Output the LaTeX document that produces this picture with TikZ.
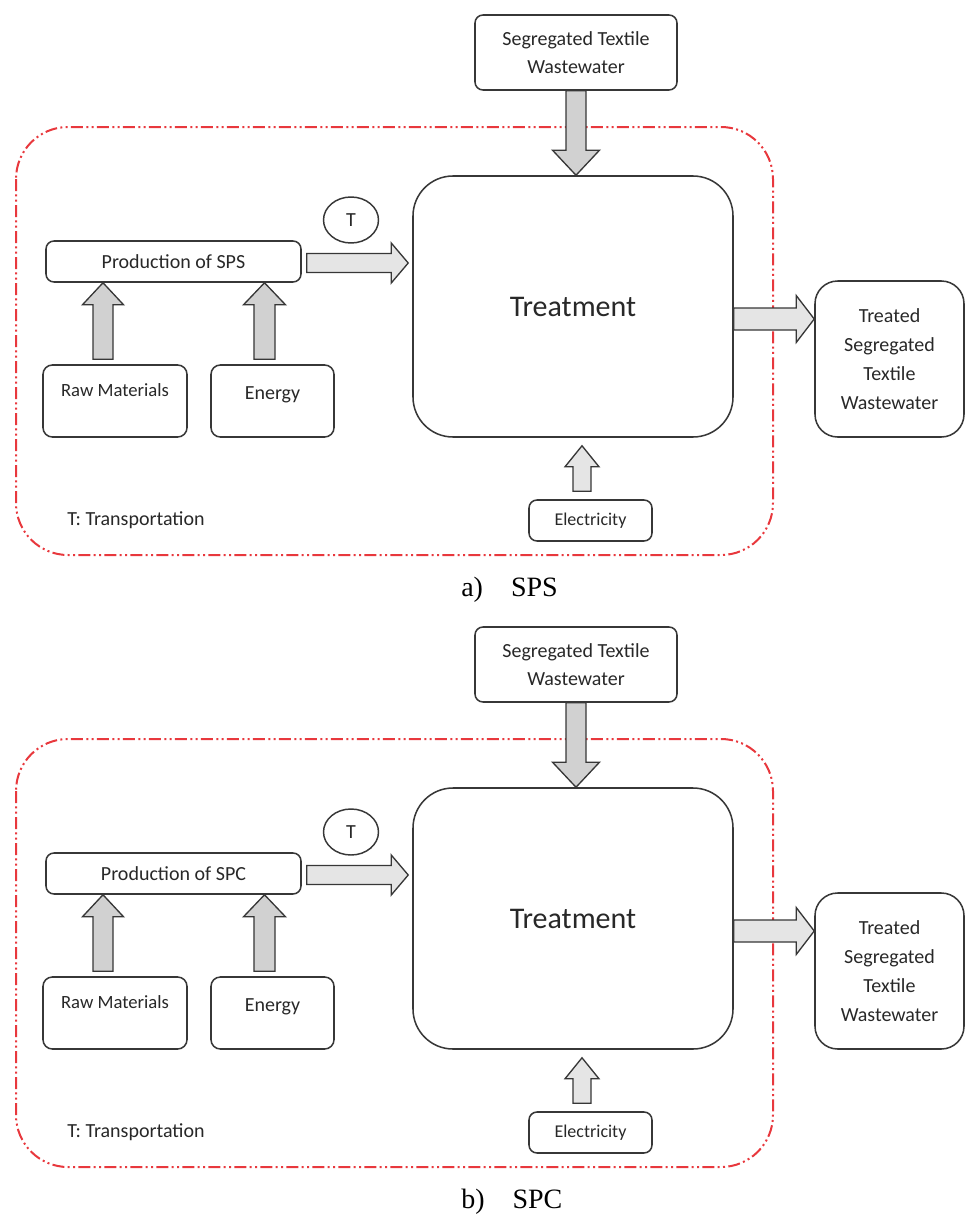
\documentclass[tikz,border=0pt]{standalone}
\usepackage{fontspec}
\setmainfont{Carlito}
\newfontfamily\capfont{Liberation Serif}
\usetikzlibrary{calc,shapes.geometric}
\definecolor{bound}{RGB}{232,56,61}
\definecolor{edge}{RGB}{55,55,55}
\definecolor{txt}{RGB}{40,40,40}
\tikzset{
  box/.style={draw=edge, line width=1.15pt, rounded corners=6pt, inner sep=0pt, text=txt, align=center, font=\fontsize{15}{21}\selectfont},
  barrowv/.style={draw=edge, line width=1pt, fill=black!18, line join=miter},
  barrowh/.style={draw=edge, line width=1pt, fill=black!10, line join=miter},
  boundary/.style={draw=bound, line width=1.5pt, rounded corners=39pt, dash pattern=on 9pt off 2.5pt on 1.5pt off 2.5pt on 1.5pt off 2.5pt},
  captext/.style={anchor=west, inner sep=0pt, font=\capfont\fontsize{21}{24}\selectfont}
}
\newcommand{\blockarrow}[6]{%
  \coordinate (ba-s) at #2;
  \coordinate (ba-t) at #3;
  \coordinate (ba-b) at ($(ba-t)!#6!(ba-s)$);
  \draw[#1] ($(ba-s)!#4!90:(ba-t)$) -- ($(ba-b)!#4!90:(ba-t)$) -- ($(ba-b)!#5!90:(ba-t)$) -- (ba-t) -- ($(ba-b)!#5!-90:(ba-t)$) -- ($(ba-b)!#4!-90:(ba-t)$) -- ($(ba-s)!#4!-90:(ba-t)$) -- cycle;}
\newcommand{\flowdiagram}[2]{%
  \draw[boundary] (16,127) rectangle (773,555);
  \node[box, minimum width=151.5pt, minimum height=56.25pt] (seg) at (576,52.5) {Segregated Textile\\Wastewater};
  \node[box, rounded corners=30pt, minimum width=240pt, minimum height=195.75pt, font=\fontsize{22.5}{26}\selectfont] (treat) at (573,306.5) {Treatment};
  \node[box, minimum width=191.25pt, minimum height=30.75pt] (prod) at (173.5,261.5) {Production of #1};
  \node[box, rounded corners=7pt, minimum width=108pt, text height=23.25pt, text depth=30.75pt, font=\fontsize{14}{18}\selectfont] (raw) at (115,401) {Raw Materials};
  \node[box, rounded corners=7pt, minimum width=92.25pt, text height=25.5pt, text depth=28.5pt] (energy) at (272.5,401) {Energy};
  \node[box, rounded corners=17pt, minimum width=111.75pt, minimum height=117pt, font=\fontsize{15}{21.75}\selectfont] (treated) at (889.5,359) {Treated\\Segregated\\Textile\\Wastewater};
  \node[box, minimum width=92.25pt, minimum height=30.75pt, font=\fontsize{13.5}{18}\selectfont] (elec) at (590.5,520.5) {Electricity};
  \node[draw=edge, line width=1.1pt, ellipse, minimum width=41.25pt, minimum height=34.5pt, inner sep=0pt, text=txt, font=\fontsize{15}{18}\selectfont] (tcirc) at (351,220) {T};
  \node[anchor=west, inner sep=0pt, text=txt, font=\fontsize{15}{18}\selectfont] (tlegend) at (67,520) {T: Transportation};
  \node[captext] (cap) at (461,590) {#2)\quad #1};
  % arrows
  \blockarrow{barrowv}{(seg.south)}{(seg.south |- treat.north)}{7.5pt}{17.6pt}{18.75pt}
  \coordinate (rawtop) at ($(raw.north)+(-12,-5)$);
  \blockarrow{barrowv}{(rawtop)}{(rawtop |- prod.south)}{7.5pt}{15.4pt}{16.5pt}
  \coordinate (entop) at ($(energy.north)+(-8,-5)$);
  \blockarrow{barrowv}{(entop)}{(entop |- prod.south)}{7.9pt}{15.75pt}{16.5pt}
  \coordinate (pstart) at ($(prod.east)+(5,1.5)$);
  \blockarrow{barrowh}{(pstart)}{($(pstart -| treat.west)+(-4,0)$)}{7.1pt}{15pt}{12.75pt}
  \coordinate (tstart) at ($(treat.east)+(0,12.5)$);
  \blockarrow{barrowh}{(tstart)}{(tstart -| treated.west)}{8.25pt}{17.6pt}{13.5pt}
  \coordinate (estart) at ($(elec.north)+(-8.5,-8)$);
  \blockarrow{barrowh}{(estart)}{($(estart |- treat.south)+(0,8)$)}{6.75pt}{12.75pt}{15.75pt}
}
\begin{document}
\begin{tikzpicture}[x=0.75pt, y=-0.75pt]
  \useasboundingbox (0,0) rectangle (968,1221);
  \begin{scope}[name prefix=a-]
    \flowdiagram{SPS}{a}
  \end{scope}
  \begin{scope}[yshift=-459pt, name prefix=b-]
    \flowdiagram{SPC}{b}
  \end{scope}
\end{tikzpicture}
\end{document}
